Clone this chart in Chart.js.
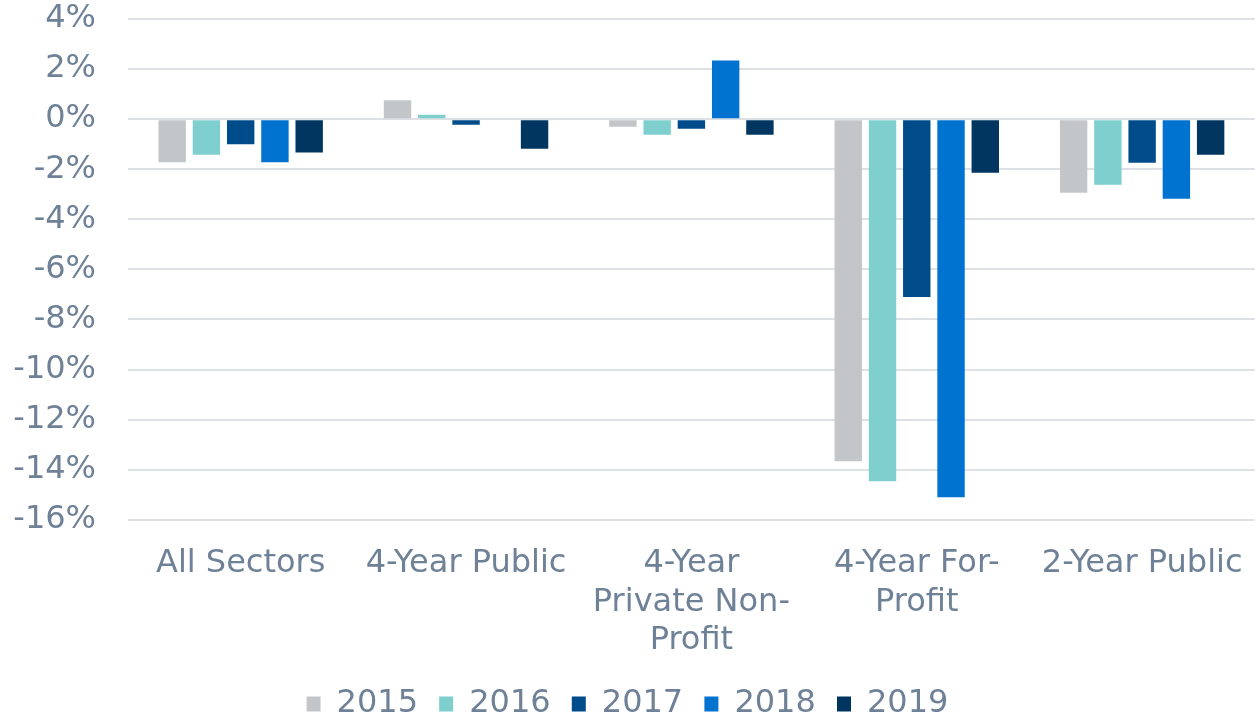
<!DOCTYPE html>
<html>
<head>
<meta charset="utf-8">
<script src="https://cdn.jsdelivr.net/npm/chart.js@4/dist/chart.umd.min.js"></script>
<style>
  html, body { margin: 0; padding: 0; background: #fff; }
  #wrap { width: 1260px; height: 716px; }
</style>
</head>
<body>
<div id="wrap"><canvas id="myChart" width="1260" height="716"></canvas></div>
<script>
// ---------------- DATA ----------------
const sectors = [
    "All Sectors",
    "4-Year Public",
    ["4-Year", "Private Non-", "Profit"],
    ["4-Year For-", "Profit"],
    "2-Year Public"
];
const years = ["2015", "2016", "2017", "2018", "2019"];

const y2015 = [-1.72, 0.76, -0.3, -13.66, -2.94];
const y2016 = [-1.42, 0.18, -0.62, -14.46, -2.62];
const y2017 = [-1.0, -0.22, -0.38, -7.1, -1.74];
const y2018 = [-1.72, null, 2.34, -15.1, -3.18];
const y2019 = [-1.33, -1.18, -0.62, -2.14, -1.42];

const yTicks = [4, 2, 0, -2, -4, -6, -8, -10, -12, -14, -16];

const colors = ["#c3c6c9", "#80cfcf", "#004c8a", "#0072cf", "#003660"];
const textColor = "#6e8197";
const font = "'DejaVu Sans', Verdana, sans-serif";

// ---------------- CHART ----------------
const ctx = document.getElementById("myChart").getContext("2d");
const seriesValues = [y2015, y2016, y2017, y2018, y2019];

new Chart(ctx, {
    type: "bar",
    data: {
        labels: sectors,
        datasets: years.map((y, i) => ({
            label: y,
            data: seriesValues[i],
            backgroundColor: colors[i],
            categoryPercentage: 0.76,
            barPercentage: 0.8
        }))
    },
    options: {
        responsive: false,
        animation: false,
        layout: { padding: { top: 0, right: 5, left: 0, bottom: -14 } },
        plugins: {
            legend: {
                position: "bottom",
                labels: {
                    color: textColor,
                    font: { family: font, size: 32 },
                    boxWidth: 14,
                    boxHeight: 15,
                    padding: 11,
                    // a little more room between legend items
                    generateLabels: (chart) => {
                        const items = Chart.defaults.plugins.legend.labels.generateLabels(chart);
                        items.forEach((it, i) => {
                            if (i < items.length - 1) it.text = it.text + " ";
                        });
                        return items;
                    }
                }
            },
            tooltip: { enabled: false }
        },
        scales: {
            x: {
                grid: { display: false },
                border: { display: false },
                ticks: {
                    color: textColor,
                    font: { family: font, size: 32, lineHeight: 1.2 },
                    maxRotation: 0,
                    autoSkip: false,
                    padding: 17
                }
            },
            y: {
                min: -16,
                max: 4,
                afterBuildTicks: (axis) => {
                    axis.ticks = yTicks.map(v => ({ value: v }));
                },
                afterFit: (axis) => {
                    // keep the plot close to the top, labels sit beside it
                    axis.width = 128;
                    axis.paddingTop = 19;
                    axis.paddingBottom = 16;
                },
                grid: { color: "#dde1e5", lineWidth: 2, drawTicks: false },
                border: { display: false },
                ticks: {
                    color: textColor,
                    font: { family: font, size: 32 },
                    padding: 32,
                    callback: v => v + "%"
                }
            }
        }
    }
});
</script>
</body>
</html>
